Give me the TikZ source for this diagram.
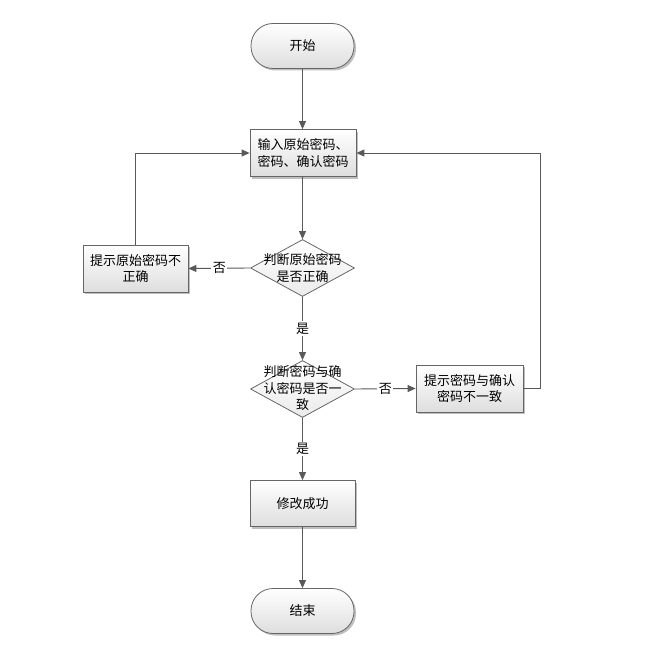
\documentclass[tikz,border=0pt]{standalone}
\usepackage{fontspec}
\newfontfamily\cjk{Noto Sans CJK SC}
\usetikzlibrary{shapes.geometric,shadows,arrows.meta}
\begin{document}
\begin{tikzpicture}[x=1pt,y=-1pt,
  font=\cjk\fontsize{13}{16.5}\selectfont,
  line/.style={draw=black!65, line width=0.9pt},
  arr/.style={line, -{Triangle[length=8pt,width=7pt]}},
  box/.style={draw=black!60, line width=0.8pt, top color=white, bottom color=black!13,
    drop shadow={shadow xshift=2pt, shadow yshift=-2pt, opacity=0.25, fill=black},
    minimum width=106pt, minimum height=47pt, inner sep=0pt, align=center},
  term/.style={box, rounded corners=22pt, minimum width=103pt, minimum height=45pt},
  dec/.style={draw=black!60, line width=0.8pt, diamond, top color=white, bottom color=black!8,
    minimum width=104pt, minimum height=57pt, inner sep=0pt},
  lbl/.style={fill=white, inner sep=1.5pt},
  txt/.style={align=center, inner sep=0pt}
]
\useasboundingbox (0,0) rectangle (653,666);
\node[term] (start) at (302.5,46) {开始};
\node[box] (input) at (303,153) {输入原始密码、\\密码、确认密码};
\node[dec] (d1) at (302.5,268) {};
\node[txt] (d1t) at (d1) {判断原始密码\\是否正确};
\node[box, minimum width=105pt] (err1) at (135.5,268.5) {提示原始密码不\\正确};
\node[dec] (d2) at (302.5,389) {};
\node[txt] (d2t) at (302.5,388) {判断密码与确\\认密码是否一\\致};
\node[box, minimum width=107pt] (err2) at (469.5,388.5) {提示密码与确认\\密码不一致};
\node[box, minimum width=105pt, minimum height=46pt] (ok) at (302.5,503.5) {修改成功};
\node[term] (end) at (302.5,611) {结束};
\coordinate (rc) at (540,153);

\draw[arr] (start.south) -- (start.south |- input.north);
\draw[arr] (input.south -| d1.north) -- (d1.north);
\draw[arr] (d1.west) -- node[lbl]{否} (err1.east);
\draw[arr] (err1.north) |- (input.west);
\draw[arr] (d1.south) -- node[lbl]{是} (d2.north);
\draw[arr] (d2.east) -- node[lbl]{否} (err2.west);
\draw[arr] (err2.east) -| (rc) -- (input.east);
\draw[arr] (d2.south) -- node[lbl]{是} (ok.north);
\draw[arr] (ok) -- (end);
\end{tikzpicture}
\end{document}
